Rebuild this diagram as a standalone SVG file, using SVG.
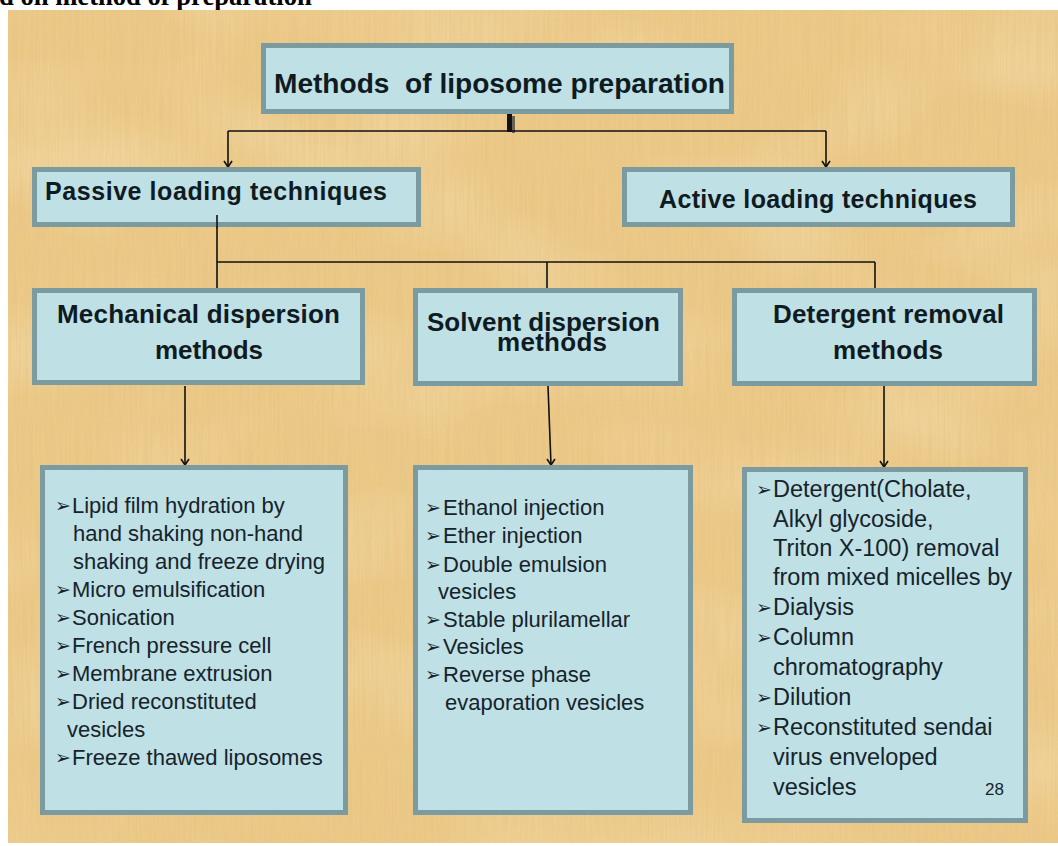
<svg xmlns="http://www.w3.org/2000/svg" width="1058" height="846" viewBox="0 0 1058 846">
  <style>
    .box { fill: #bfe0e5; stroke: #7c9ba0; stroke-width: 5; }
    .head { font-family: "Liberation Sans", Arial, sans-serif; font-weight: bold; fill: #0f1b22; }
    .item { font-family: "Liberation Sans", Arial, sans-serif; font-size: 22px; fill: #16232b; }
    .big { font-size: 23.5px; }
    .bul { font-family: "DejaVu Sans", sans-serif; font-size: 19px; fill: #16232b; }
    .wire { fill: none; stroke: #111; stroke-width: 1.6; }
  </style>
  <defs>
    <marker id="tip" viewBox="0 0 10 10" refX="5" refY="9" markerWidth="10" markerHeight="10" markerUnits="userSpaceOnUse">
      <path d="M1,3 L5,9 L9,3" fill="none" stroke="#111" stroke-width="1.6"/>
    </marker>
    <filter id="grain" x="0" y="0" width="100%" height="100%">
      <feTurbulence type="fractalNoise" baseFrequency="0.5 0.012" numOctaves="2" seed="7" result="n"/>
      <feColorMatrix in="n" type="matrix" values="0 0 0 0 0.7  0 0 0 0 0.5  0 0 0 0 0.22  1.6 0 0 0 -0.55"/>
    </filter>
    <filter id="patch" x="0" y="0" width="100%" height="100%">
      <feTurbulence type="fractalNoise" baseFrequency="0.006 0.01" numOctaves="2" seed="2" result="n"/>
      <feColorMatrix in="n" type="matrix" values="0 0 0 0 0.98  0 0 0 0 0.86  0 0 0 0 0.6  1.4 0 0 0 -0.6"/>
    </filter>
  </defs>

  <!-- page and parchment panel -->
  <rect x="0" y="0" width="1058" height="846" fill="#ffffff"/>
  <text x="-1" y="5" font-family="Liberation Serif, 'Times New Roman', serif" font-weight="bold" font-size="26.6" fill="#000">d on method of preparation</text>
  <rect x="8" y="10" width="1050" height="833" fill="#ecc987"/>
  <rect x="8" y="10" width="1050" height="833" filter="url(#patch)" opacity="0.5"/>
  <rect x="8" y="10" width="1050" height="833" filter="url(#grain)" opacity="0.4"/>

  <!-- connectors -->
  <g id="connectors">
    <rect x="507" y="114" width="5" height="18" fill="#111"/>
    <rect x="512" y="116" width="3" height="17" fill="#6b6256"/>
    <path class="wire" d="M228,131 H826"/>
    <path class="wire" d="M228,131 V167" marker-end="url(#tip)"/>
    <path class="wire" d="M826,131 V167" marker-end="url(#tip)"/>
    <path class="wire" d="M217,215 V290"/>
    <path class="wire" d="M217,262 H875"/>
    <path class="wire" d="M547,262 V289"/>
    <path class="wire" d="M875,262 V289"/>
    <path class="wire" d="M185,386 V465" marker-end="url(#tip)"/>
    <path class="wire" d="M548,386 L551,465" marker-end="url(#tip)"/>
    <path class="wire" d="M884,386 V467" marker-end="url(#tip)"/>
  </g>

  <g id="root">
    <rect class="box" x="263.5" y="45.5" width="468" height="66"/>
    <text class="head" x="274" y="93" font-size="28" xml:space="preserve" textLength="451" lengthAdjust="spacingAndGlyphs">Methods  of liposome preparation</text>
  </g>

  <g id="passive">
    <rect class="box" x="34.5" y="169.5" width="384" height="55"/>
    <text class="head" x="45" y="200" font-size="25" textLength="342" lengthAdjust="spacing">Passive loading techniques</text>
  </g>

  <g id="active">
    <rect class="box" x="624.5" y="169.5" width="388" height="55"/>
    <text class="head" x="659" y="208" font-size="25" textLength="318" lengthAdjust="spacing">Active loading techniques</text>
  </g>

  <!-- stem leaving the passive box, drawn over its fill -->
  <path class="wire" d="M217,215 V228"/>

  <g id="mechanical">
    <rect class="box" x="34.5" y="290.5" width="328" height="92"/>
    <text class="head" x="57" y="323" font-size="26" textLength="283" lengthAdjust="spacing">Mechanical dispersion</text>
    <text class="head" x="155" y="359" font-size="26" textLength="108" lengthAdjust="spacing">methods</text>
  </g>

  <g id="solvent">
    <rect class="box" x="415.5" y="290.5" width="265" height="93"/>
    <text class="head" x="427" y="331" font-size="26" textLength="233" lengthAdjust="spacing">Solvent dispersion</text>
    <text class="head" x="497" y="351" font-size="26" textLength="110" lengthAdjust="spacing">methods</text>
  </g>

  <g id="detergent">
    <rect class="box" x="734.5" y="290.5" width="300" height="93"/>
    <text class="head" x="773" y="323" font-size="26" textLength="231" lengthAdjust="spacing">Detergent removal</text>
    <text class="head" x="833" y="359" font-size="26" textLength="110" lengthAdjust="spacing">methods</text>
  </g>

  <g id="mechanical-list">
    <rect class="box" x="42.5" y="467.5" width="303" height="345"/>
    <text class="bul" x="55" y="512">➢</text>
    <text class="item" x="72" y="513">Lipid film hydration by</text>
    <text class="item" x="73" y="541">hand shaking non-hand</text>
    <text class="item" x="73" y="569">shaking and freeze drying</text>
    <text class="bul" x="55" y="596">➢</text>
    <text class="item" x="72" y="597">Micro emulsification</text>
    <text class="bul" x="55" y="624">➢</text>
    <text class="item" x="72" y="625">Sonication</text>
    <text class="bul" x="55" y="652">➢</text>
    <text class="item" x="72" y="653">French pressure cell</text>
    <text class="bul" x="55" y="680">➢</text>
    <text class="item" x="72" y="681">Membrane extrusion</text>
    <text class="bul" x="55" y="708">➢</text>
    <text class="item" x="72" y="709">Dried reconstituted</text>
    <text class="item" x="67" y="737">vesicles</text>
    <text class="bul" x="55" y="764">➢</text>
    <text class="item" x="72" y="765">Freeze thawed liposomes</text>
  </g>

  <g id="solvent-list">
    <rect class="box" x="415.5" y="467.5" width="275" height="345"/>
    <text class="bul" x="425" y="514">➢</text>
    <text class="item" x="443" y="515">Ethanol injection</text>
    <text class="bul" x="425" y="542">➢</text>
    <text class="item" x="443" y="543">Ether injection</text>
    <text class="bul" x="425" y="571">➢</text>
    <text class="item" x="443" y="572">Double emulsion</text>
    <text class="item" x="438" y="599">vesicles</text>
    <text class="bul" x="425" y="626">➢</text>
    <text class="item" x="443" y="627">Stable plurilamellar</text>
    <text class="bul" x="425" y="653">➢</text>
    <text class="item" x="443" y="654">Vesicles</text>
    <text class="bul" x="425" y="681">➢</text>
    <text class="item" x="443" y="682">Reverse phase</text>
    <text class="item" x="445" y="710">evaporation vesicles</text>
  </g>

  <g id="detergent-list">
    <rect class="box" x="744.5" y="469.5" width="281" height="351"/>
    <text class="bul" x="756" y="496">➢</text>
    <text class="item big" x="773" y="497">Detergent(Cholate,</text>
    <text class="item big" x="773" y="527">Alkyl glycoside,</text>
    <text class="item big" x="773" y="556">Triton X-100) removal</text>
    <text class="item big" x="773" y="585">from mixed micelles by</text>
    <text class="bul" x="756" y="614">➢</text>
    <text class="item big" x="773" y="615">Dialysis</text>
    <text class="bul" x="756" y="644">➢</text>
    <text class="item big" x="773" y="645">Column</text>
    <text class="item big" x="773" y="675">chromatography</text>
    <text class="bul" x="756" y="704">➢</text>
    <text class="item big" x="773" y="705">Dilution</text>
    <text class="bul" x="756" y="734">➢</text>
    <text class="item big" x="773" y="735">Reconstituted sendai</text>
    <text class="item big" x="773" y="765">virus enveloped</text>
    <text class="item big" x="773" y="795">vesicles</text>
    <text class="item" x="985" y="795" style="font-size:17px">28</text>
  </g>
</svg>
